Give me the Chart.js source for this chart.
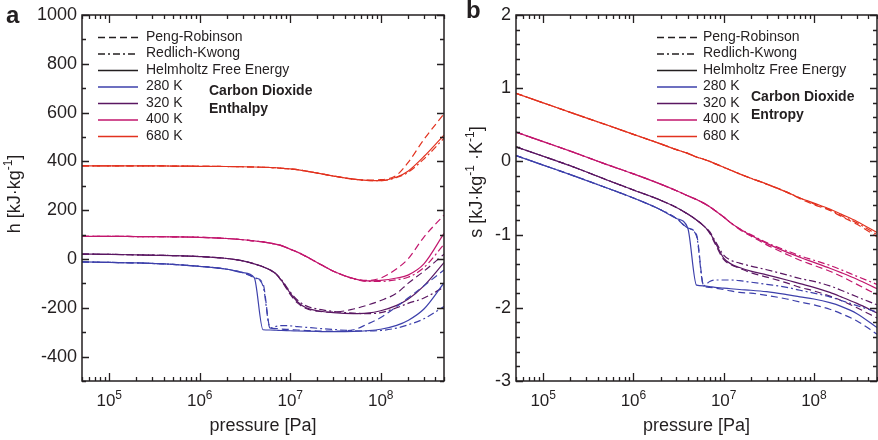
<!DOCTYPE html>
<html>
<head>
<meta charset="utf-8">
<script src="https://cdn.jsdelivr.net/npm/chart.js@4.4.1/dist/chart.umd.min.js"></script>
<style>
  body { margin: 0; background: #fff; width: 878px; height: 440px; position: relative; overflow: hidden; }
  #wa { position: absolute; left: 0; top: 0; width: 448px; height: 440px; }
  #wb { position: absolute; left: 448px; top: 0; width: 430px; height: 440px; }
</style>
</head>
<body>
<div id="wa"><canvas id="chartA" width="448" height="440"></canvas></div>
<div id="wb"><canvas id="chartB" width="430" height="440"></canvas></div>
<script>
// pressure grid [Pa] shared by all curves
const pressures = [5e4, 1e5, 2e5, 5e5, 1e6, 2e6, 3e6, 4e6, 5e6, 6e6, 7e6, 8e6, 1e7, 1.2e7, 1.5e7, 2e7, 3e7, 5e7, 7e7, 1e8, 1.5e8, 2e8, 3e8, 5e8];

const temps = ['280 K', '320 K', '400 K', '680 K'];
const models = ['Peng-Robinson', 'Redlich-Kwong', 'Helmholtz Free Energy'];

// enthalpy h [kJ/kg]
const h280PR  = [-12,-14,-16,-22,-30,-42,-56,-76,-100,-283,-285,-287,-289,-291,-293,-295,-296,-290,-268,-240,-195,-160,-110,-45];
const h280RK  = [-12,-14,-16,-22,-30,-42,-56,-76,-110,-283,-276,-273,-274,-277,-280,-284,-289,-294,-295,-293,-283,-270,-245,-195];
const h280HFE = [-12,-14,-16,-22,-30,-42,-56,-76,-290,-291,-292,-293,-294,-295,-296,-297,-298,-297,-294,-288,-272,-252,-205,-98];
const h320PR  = [20,19,17,14,10,2,-8,-20,-32,-45,-62,-90,-145,-180,-203,-214,-218,-205,-190,-170,-140,-100,-50,20];
const h320RK  = [20,19,17,14,10,2,-8,-20,-32,-45,-62,-85,-135,-168,-192,-205,-215,-222,-224,-220,-200,-182,-160,-115];
const h320HFE = [20,19,17,14,10,2,-8,-20,-32,-45,-62,-88,-140,-175,-200,-212,-220,-224,-222,-212,-190,-165,-110,-15];
const h400PR  = [93,93,92,91,89,84,79,74,70,65,60,55,40,28,10,-15,-50,-80,-88,-78,-40,0,90,180];
const h400RK  = [93,93,92,91,89,84,79,74,70,65,60,55,40,28,10,-15,-50,-81,-92,-92,-85,-75,-35,60];
const h400HFE = [93,93,92,91,89,84,79,74,70,65,60,55,40,28,10,-15,-50,-80,-90,-88,-78,-66,-20,105];
const h680PR  = [382,382,382,381,380,379,378,377,376,375,374,372,369,366,360,352,340,327,323,325,344,395,490,595];
const h680RK  = [382,382,382,381,380,379,378,377,376,375,374,372,369,366,360,352,340,327,322,321,334,355,410,495];
const h680HFE = [382,382,382,381,380,379,378,377,376,375,374,372,369,366,360,352,340,327,322,321,336,360,420,508];

// entropy s [kJ/(kg K)]
const s280PR  = [0.08,-0.05,-0.18,-0.36,-0.50,-0.66,-0.78,-0.91,-1.00,-1.70,-1.72,-1.73,-1.75,-1.77,-1.79,-1.80,-1.83,-1.88,-1.92,-1.96,-2.02,-2.08,-2.18,-2.36];
const s280RK  = [0.08,-0.05,-0.18,-0.36,-0.50,-0.66,-0.78,-0.91,-1.02,-1.70,-1.64,-1.62,-1.62,-1.62,-1.63,-1.65,-1.68,-1.72,-1.76,-1.80,-1.85,-1.90,-1.97,-2.06];
const s280HFE = [0.08,-0.05,-0.18,-0.36,-0.50,-0.66,-0.78,-0.91,-1.69,-1.70,-1.71,-1.72,-1.73,-1.74,-1.75,-1.76,-1.78,-1.82,-1.85,-1.88,-1.93,-1.98,-2.08,-2.27];
const s320PR  = [0.20,0.07,-0.06,-0.25,-0.39,-0.53,-0.63,-0.72,-0.80,-0.88,-0.98,-1.12,-1.34,-1.41,-1.46,-1.52,-1.58,-1.66,-1.72,-1.77,-1.84,-1.90,-2.00,-2.14];
const s320RK  = [0.20,0.07,-0.06,-0.25,-0.39,-0.53,-0.63,-0.72,-0.80,-0.88,-0.96,-1.08,-1.28,-1.35,-1.39,-1.43,-1.48,-1.55,-1.60,-1.64,-1.70,-1.76,-1.85,-1.96];
const s320HFE = [0.20,0.07,-0.06,-0.25,-0.39,-0.53,-0.63,-0.72,-0.80,-0.88,-0.97,-1.10,-1.32,-1.40,-1.45,-1.50,-1.55,-1.62,-1.67,-1.72,-1.79,-1.85,-1.94,-2.07];
const s400PR  = [0.40,0.27,0.14,-0.04,-0.17,-0.31,-0.40,-0.47,-0.52,-0.57,-0.62,-0.67,-0.76,-0.84,-0.93,-1.02,-1.14,-1.27,-1.35,-1.42,-1.50,-1.57,-1.68,-1.82];
const s400RK  = [0.40,0.27,0.14,-0.04,-0.17,-0.31,-0.40,-0.47,-0.52,-0.57,-0.62,-0.67,-0.76,-0.84,-0.92,-1.00,-1.11,-1.22,-1.29,-1.35,-1.42,-1.48,-1.57,-1.68];
const s400HFE = [0.40,0.27,0.14,-0.04,-0.17,-0.31,-0.40,-0.47,-0.52,-0.57,-0.62,-0.67,-0.76,-0.84,-0.92,-1.01,-1.12,-1.24,-1.31,-1.38,-1.46,-1.52,-1.61,-1.74];
const s680PR  = [0.93,0.80,0.67,0.50,0.37,0.24,0.16,0.11,0.06,0.03,0.00,-0.03,-0.08,-0.12,-0.17,-0.23,-0.31,-0.42,-0.51,-0.59,-0.67,-0.75,-0.86,-1.03];
const s680RK  = [0.93,0.80,0.67,0.50,0.37,0.24,0.16,0.11,0.06,0.03,0.00,-0.03,-0.08,-0.12,-0.17,-0.23,-0.31,-0.42,-0.50,-0.58,-0.66,-0.74,-0.84,-1.00];
const s680HFE = [0.93,0.80,0.67,0.50,0.37,0.24,0.16,0.11,0.06,0.03,0.00,-0.03,-0.08,-0.12,-0.17,-0.23,-0.31,-0.42,-0.50,-0.57,-0.65,-0.72,-0.82,-0.97];

// tick labels
const hTicks = [-400, -200, 0, 200, 400, 600, 800, 1000];
const sTicks = [-3, -2, -1, 0, 1, 2];
const pExponents = [5, 6, 7, 8];

const tempColors = ['#3d40ab', '#5a1762', '#c2166d', '#e2321f'];
const dashes = [[7, 4], [7, 3, 2, 3], []];
const INK = '#231f20';
const FONT = '"Liberation Sans", Arial, sans-serif';

function curve(vals, color, dash) {
  return {
    data: vals.map((v, i) => ({ x: pressures[i], y: v })),
    borderColor: color,
    borderDash: dash,
    borderWidth: 1.2,
    pointRadius: 0,
    fill: false,
    cubicInterpolationMode: 'monotone'
  };
}

function buildSets(groups) {
  const sets = [];
  groups.forEach((g, ti) => {
    g.forEach((vals, mi) => sets.push(curve(vals, tempColors[ti], dashes[mi])));
  });
  return sets;
}

// text with superscripts: parts = [[text, isSup], ...]
function partsWidth(ctx, parts, size, supSize) {
  let w = 0;
  parts.forEach(([t, sup]) => {
    ctx.font = (sup ? supSize : size) + 'px ' + FONT;
    w += ctx.measureText(t).width;
  });
  return w;
}
function drawParts(ctx, parts, x, y, size, supSize, rise) {
  parts.forEach(([t, sup]) => {
    ctx.font = (sup ? supSize : size) + 'px ' + FONT;
    ctx.fillText(t, x, sup ? y - rise : y);
    x += ctx.measureText(t).width;
  });
}

const decor = {
  id: 'decor',
  afterDraw(chart, args, o) {
    const { ctx, chartArea: a, scales: { x, y } } = chart;
    ctx.save();
    ctx.strokeStyle = INK;
    ctx.fillStyle = INK;
    ctx.lineWidth = 1.3;

    // inward ticks on all four sides
    ctx.beginPath();
    const n = Math.round((o.yMax - o.yMin) / o.yMinor);
    for (let i = 0; i <= n; i++) {
      const v = o.yMin + i * o.yMinor;
      const py = Math.round(y.getPixelForValue(v)) + 0.5;
      const r = v / o.yMajor;
      const len = Math.abs(r - Math.round(r)) < 1e-6 ? 7 : 4;
      ctx.moveTo(a.left, py); ctx.lineTo(a.left + len, py);
      ctx.moveTo(a.right, py); ctx.lineTo(a.right - len, py);
    }
    for (let e = 4; e <= 8; e++) {
      for (let m = 1; m <= 9; m++) {
        const v = m * Math.pow(10, e);
        if (v < x.min * 0.999 || v > x.max * 1.001) continue;
        const px = Math.round(x.getPixelForValue(v)) + 0.5;
        const len = m === 1 ? 8 : 4;
        ctx.moveTo(px, a.bottom); ctx.lineTo(px, a.bottom - len);
        ctx.moveTo(px, a.top); ctx.lineTo(px, a.top + len);
      }
    }
    ctx.stroke();
    ctx.lineWidth = 1.5;
    ctx.strokeRect(a.left, a.top, a.right - a.left, a.bottom - a.top);

    // y tick labels
    ctx.font = '18px ' + FONT;
    ctx.textAlign = 'right';
    ctx.textBaseline = 'middle';
    o.yTicks.forEach(v => ctx.fillText(String(v), a.left - 5, y.getPixelForValue(v)));

    // x tick labels 10^n
    ctx.textAlign = 'left';
    ctx.textBaseline = 'alphabetic';
    pExponents.forEach(ex => {
      const parts = [['10', false], [String(ex), true]];
      const w = partsWidth(ctx, parts, 17, 12);
      const px = x.getPixelForValue(Math.pow(10, ex));
      drawParts(ctx, parts, px - w / 2, 406, 17, 12, 7);
    });

    // x title
    ctx.font = '18px ' + FONT;
    ctx.textAlign = 'center';
    ctx.fillText('pressure [Pa]', (a.left + a.right) / 2, 431);

    // y title (rotated)
    ctx.save();
    ctx.translate(o.yTitleX, o.yTitleY);
    ctx.rotate(-Math.PI / 2);
    ctx.textAlign = 'left';
    ctx.textBaseline = 'middle';
    const tw = partsWidth(ctx, o.yTitle, 18, 12);
    drawParts(ctx, o.yTitle, -tw / 2, 0, 18, 12, 6);
    ctx.restore();

    // panel letter
    ctx.font = 'bold 24px ' + FONT;
    ctx.textAlign = 'left';
    ctx.textBaseline = 'alphabetic';
    ctx.fillText(o.letter, o.letterX, o.letterY);

    // legend
    ctx.font = '14px ' + FONT;
    ctx.textBaseline = 'middle';
    ctx.lineWidth = 1.3;
    const rows = models.map((m, i) => [m, INK, dashes[i]])
      .concat(temps.map((t, i) => [t, tempColors[i], []]));
    rows.forEach(([label, color, dash], i) => {
      const ry = o.legY + i * o.legGap;
      ctx.strokeStyle = color;
      ctx.setLineDash(dash);
      ctx.beginPath();
      ctx.moveTo(o.legX, ry + 0.5);
      ctx.lineTo(o.legX + 40, ry + 0.5);
      ctx.stroke();
      ctx.fillStyle = INK;
      ctx.fillText(label, o.legTextX, ry);
    });
    ctx.setLineDash([]);
    ctx.font = 'bold 14px ' + FONT;
    ctx.fillText('Carbon Dioxide', o.noteX, o.noteY);
    ctx.fillText(o.note, o.noteX, o.noteY + 18);
    ctx.restore();
  }
};

function baseOptions(yMin, yMax, yWidth, padRight, decorOpts) {
  return {
    responsive: false,
    animation: false,
    layout: { padding: { top: 15, right: padRight, left: 0, bottom: 0 } },
    plugins: { legend: { display: false }, tooltip: { enabled: false }, decor: decorOpts },
    scales: {
      x: {
        type: 'logarithmic', min: 5e4, max: 5e8,
        grid: { display: false }, border: { display: false }, ticks: { display: false },
        afterFit: s => { s.height = 59; }
      },
      y: {
        min: yMin, max: yMax,
        grid: { display: false }, border: { display: false }, ticks: { display: false },
        afterFit: s => { s.width = yWidth; }
      }
    }
  };
}

new Chart(document.getElementById('chartA'), {
  type: 'line',
  data: {
    datasets: buildSets([
      [h280PR, h280RK, h280HFE],
      [h320PR, h320RK, h320HFE],
      [h400PR, h400RK, h400HFE],
      [h680PR, h680RK, h680HFE]
    ])
  },
  options: baseOptions(-500, 1000, 82, 4, {
    yMin: -500, yMax: 1000, yMinor: 100, yMajor: 200, yTicks: hTicks,
    yTitle: [['h [kJ\u00b7kg', false], ['-1', true], [']', false]],
    yTitleX: 15, yTitleY: 194,
    letter: 'a', letterX: 6, letterY: 23,
    legX: 98, legTextX: 146, legY: 37, legGap: 16.5,
    noteX: 209, noteY: 91, note: 'Enthalpy'
  }),
  plugins: [decor]
});

new Chart(document.getElementById('chartB'), {
  type: 'line',
  data: {
    datasets: buildSets([
      [s280PR, s280RK, s280HFE],
      [s320PR, s320RK, s320HFE],
      [s400PR, s400RK, s400HFE],
      [s680PR, s680RK, s680HFE]
    ])
  },
  options: baseOptions(-3, 2, 68, 1, {
    yMin: -3, yMax: 2, yMinor: 0.2, yMajor: 1, yTicks: sTicks,
    yTitle: [['s [kJ\u00b7kg', false], ['-1', true], [' \u00b7K', false], ['-1', true], [']', false]],
    yTitleX: 29, yTitleY: 182,
    letter: 'b', letterX: 18, letterY: 18,
    legX: 209, legTextX: 255, legY: 37, legGap: 16.5,
    noteX: 303, noteY: 97, note: 'Entropy'
  }),
  plugins: [decor]
});
</script>
</body>
</html>
